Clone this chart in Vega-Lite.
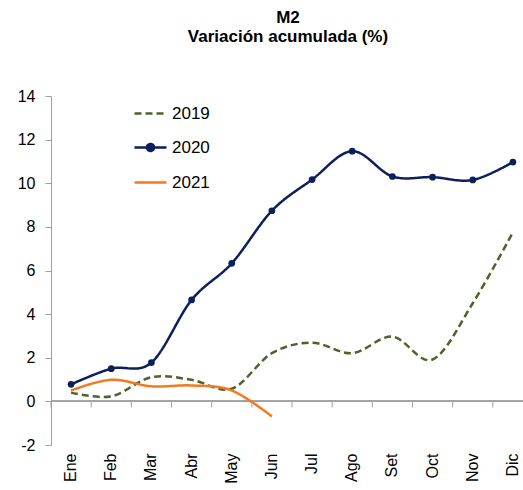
{
  "$schema": "https://vega.github.io/schema/vega-lite/v6.json",
  "width": 482,
  "height": 349,
  "padding": {"left": 5, "top": 9, "right": 5, "bottom": 5},
  "background": "white",
  "config": {"view": {"stroke": null}, "font": "Liberation Sans"},
  "title": {"text": ["M2", "Variación acumulada (%)"], "fontSize": 17, "fontWeight": "bold", "font": "Liberation Sans", "color": "black", "anchor": "middle", "offset": 42, "lineHeight": 19, "dx": -4},
  "data": {"values": [
    {"month": "Ene", "series": "2019", "value": 0.40},
    {"month": "Feb", "series": "2019", "value": 0.23},
    {"month": "Mar", "series": "2019", "value": 1.11},
    {"month": "Abr", "series": "2019", "value": 0.99},
    {"month": "May", "series": "2019", "value": 0.58},
    {"month": "Jun", "series": "2019", "value": 2.21},
    {"month": "Jul", "series": "2019", "value": 2.69},
    {"month": "Ago", "series": "2019", "value": 2.21},
    {"month": "Set", "series": "2019", "value": 2.97},
    {"month": "Oct", "series": "2019", "value": 1.92},
    {"month": "Nov", "series": "2019", "value": 4.50},
    {"month": "Dic", "series": "2019", "value": 7.75},
    {"month": "Ene", "series": "2020", "value": 0.78},
    {"month": "Feb", "series": "2020", "value": 1.50},
    {"month": "Mar", "series": "2020", "value": 1.78},
    {"month": "Abr", "series": "2020", "value": 4.65},
    {"month": "May", "series": "2020", "value": 6.33},
    {"month": "Jun", "series": "2020", "value": 8.74},
    {"month": "Jul", "series": "2020", "value": 10.17},
    {"month": "Ago", "series": "2020", "value": 11.47},
    {"month": "Set", "series": "2020", "value": 10.31},
    {"month": "Oct", "series": "2020", "value": 10.28},
    {"month": "Nov", "series": "2020", "value": 10.15},
    {"month": "Dic", "series": "2020", "value": 10.97},
    {"month": "Ene", "series": "2021", "value": 0.50},
    {"month": "Feb", "series": "2021", "value": 0.99},
    {"month": "Mar", "series": "2021", "value": 0.69},
    {"month": "Abr", "series": "2021", "value": 0.73},
    {"month": "May", "series": "2021", "value": 0.50},
    {"month": "Jun", "series": "2021", "value": -0.69}
  ]},
  "encoding": {
    "x": {"field": "month", "type": "ordinal",
      "sort": ["Ene", "Feb", "Mar", "Abr", "May", "Jun", "Jul", "Ago", "Set", "Oct", "Nov", "Dic"],
      "scale": {"type": "band", "paddingInner": 0, "paddingOuter": 0},
      "axis": {"title": null, "domain": false, "ticks": false, "labelAngle": -90, "labelAlign": "right", "labelBaseline": "middle", "labelFontSize": 16, "labelColor": "black", "labelPadding": 8, "labelFont": "Liberation Sans"}}
  },
  "layer": [
    {
      "mark": {"type": "rule", "color": "#A0A0A0", "strokeWidth": 1},
      "encoding": {"y": {"datum": 0, "type": "quantitative"}, "x": null}
    },
    {
      "transform": [{"filter": "datum.series === '2019'"}],
      "mark": {"type": "rule", "color": "#A0A0A0", "strokeWidth": 1},
      "encoding": {
        "x": {"field": "month", "type": "ordinal", "bandPosition": 0,
          "sort": ["Ene", "Feb", "Mar", "Abr", "May", "Jun", "Jul", "Ago", "Set", "Oct", "Nov", "Dic"]},
        "y": {"datum": 0, "type": "quantitative"},
        "y2": {"datum": -0.28}
      }
    },
    {
      "mark": {"type": "line", "interpolate": "cardinal", "strokeWidth": 2.5},
      "encoding": {
        "y": {"field": "value", "type": "quantitative",
          "scale": {"domain": [-2, 14], "nice": false, "zero": false},
          "axis": {"title": null, "values": [-2, 0, 2, 4, 6, 8, 10, 12, 14], "labelExpr": "replace(datum.label, '−', '-')", "grid": false, "domainColor": "#A0A0A0", "tickColor": "#A0A0A0", "tickSize": 6, "labelFontSize": 16, "labelColor": "black", "labelPadding": 10, "labelFont": "Liberation Sans", "minExtent": 46, "maxExtent": 46}},
        "color": {"field": "series", "type": "nominal",
          "scale": {"domain": ["2019", "2020", "2021"], "range": ["#4F6228", "#0C1F5C", "#F47A20"]},
          "legend": {"orient": "none", "legendX": 82, "legendY": 0, "title": null, "labelFontSize": 17, "labelColor": "black", "labelFont": "Liberation Sans", "symbolSize": 1024, "symbolStrokeWidth": 2.5, "labelOffset": 4, "rowPadding": 8,
            "encode": {"symbols": {"update": {
              "shape": {"signal": "datum.value === '2020' ? 'M-1,0L1,0M-0.22,0A0.22,0.22 0 1,1 0.22,0A0.22,0.22 0 1,1 -0.22,0' : 'stroke'"},
              "fill": {"signal": "datum.value === '2020' ? '#0C1F5C' : 'transparent'"}
            }}}}},
        "strokeDash": {"field": "series", "type": "nominal",
          "scale": {"domain": ["2019", "2020", "2021"], "range": [[7, 4], [1, 0], [1, 0]]},
          "legend": {"orient": "none", "legendX": 82, "legendY": 0, "title": null, "labelFontSize": 17, "labelColor": "black", "labelFont": "Liberation Sans", "symbolSize": 1024, "symbolStrokeWidth": 2.5, "labelOffset": 4, "rowPadding": 8,
            "encode": {"symbols": {"update": {
              "shape": {"signal": "datum.value === '2020' ? 'M-1,0L1,0M-0.22,0A0.22,0.22 0 1,1 0.22,0A0.22,0.22 0 1,1 -0.22,0' : 'stroke'"},
              "fill": {"signal": "datum.value === '2020' ? '#0C1F5C' : 'transparent'"}
            }}}}}
      }
    },
    {
      "transform": [{"filter": "datum.series === '2020'"}],
      "mark": {"type": "point", "filled": true, "size": 45, "opacity": 1, "color": "#0C1F5C"},
      "encoding": {
        "y": {"field": "value", "type": "quantitative"}
      }
    }
  ]
}
